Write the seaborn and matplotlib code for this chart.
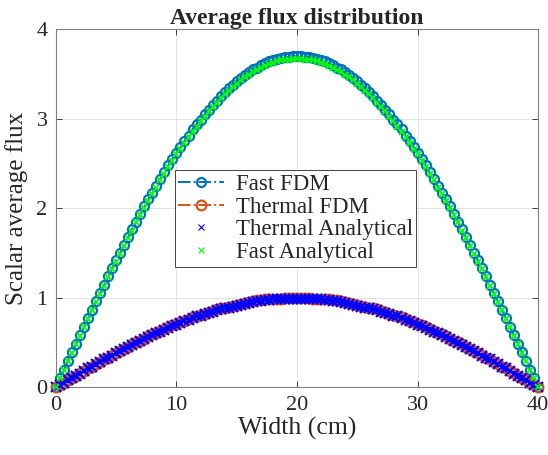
import numpy as np
import pandas as pd
import seaborn as sns
import matplotlib.pyplot as plt

# ---- data (121 points, 1/3 cm apart, 0..40 cm) ----
width_cm = np.linspace(0, 40, 121)

fast_fdm = [
    0.00, 0.10, 0.19, 0.29, 0.39, 0.48, 0.58, 0.67, 0.77, 0.86,
    0.96, 1.05, 1.14, 1.24, 1.33, 1.42, 1.50, 1.59, 1.68, 1.77,
    1.85, 1.93, 2.02, 2.10, 2.17, 2.25, 2.33, 2.40, 2.48, 2.55,
    2.62, 2.68, 2.75, 2.81, 2.88, 2.94, 2.99, 3.05, 3.10, 3.15,
    3.20, 3.25, 3.30, 3.34, 3.38, 3.42, 3.45, 3.49, 3.52, 3.55,
    3.57, 3.60, 3.62, 3.64, 3.65, 3.67, 3.68, 3.69, 3.69, 3.70,
    3.70,
    3.70, 3.69, 3.69, 3.68, 3.67, 3.65, 3.64, 3.62, 3.60, 3.57,
    3.55, 3.52, 3.49, 3.45, 3.42, 3.38, 3.34, 3.30, 3.25, 3.20,
    3.15, 3.10, 3.05, 2.99, 2.94, 2.88, 2.81, 2.75, 2.68, 2.62,
    2.55, 2.48, 2.40, 2.33, 2.25, 2.17, 2.10, 2.02, 1.93, 1.85,
    1.77, 1.68, 1.59, 1.50, 1.42, 1.33, 1.24, 1.14, 1.05, 0.96,
    0.86, 0.77, 0.67, 0.58, 0.48, 0.39, 0.29, 0.19, 0.10, 0.00,
]

thermal_fdm = [
    0.00, 0.03, 0.05, 0.08, 0.10, 0.13, 0.16, 0.18, 0.21, 0.23,
    0.26, 0.28, 0.31, 0.33, 0.36, 0.38, 0.41, 0.43, 0.45, 0.48,
    0.50, 0.52, 0.54, 0.57, 0.59, 0.61, 0.63, 0.65, 0.67, 0.69,
    0.71, 0.73, 0.74, 0.76, 0.78, 0.79, 0.81, 0.82, 0.84, 0.85,
    0.87, 0.88, 0.89, 0.90, 0.91, 0.92, 0.93, 0.94, 0.95, 0.96,
    0.97, 0.97, 0.98, 0.98, 0.99, 0.99, 0.99, 1.00, 1.00, 1.00,
    1.00,
    1.00, 1.00, 1.00, 0.99, 0.99, 0.99, 0.98, 0.98, 0.97, 0.97,
    0.96, 0.95, 0.94, 0.93, 0.92, 0.91, 0.90, 0.89, 0.88, 0.87,
    0.85, 0.84, 0.82, 0.81, 0.79, 0.78, 0.76, 0.74, 0.73, 0.71,
    0.69, 0.67, 0.65, 0.63, 0.61, 0.59, 0.57, 0.54, 0.52, 0.50,
    0.48, 0.45, 0.43, 0.41, 0.38, 0.36, 0.33, 0.31, 0.28, 0.26,
    0.23, 0.21, 0.18, 0.16, 0.13, 0.10, 0.08, 0.05, 0.03, 0.00,
]

thermal_analytical = [
    0.00, 0.03, 0.05, 0.08, 0.10, 0.13, 0.15, 0.18, 0.21, 0.23,
    0.26, 0.28, 0.31, 0.33, 0.35, 0.38, 0.40, 0.43, 0.45, 0.47,
    0.49, 0.52, 0.54, 0.56, 0.58, 0.60, 0.62, 0.64, 0.66, 0.68,
    0.70, 0.72, 0.74, 0.75, 0.77, 0.79, 0.80, 0.82, 0.83, 0.84,
    0.86, 0.87, 0.88, 0.89, 0.90, 0.91, 0.92, 0.93, 0.94, 0.95,
    0.96, 0.96, 0.97, 0.97, 0.98, 0.98, 0.98, 0.99, 0.99, 0.99,
    0.99,
    0.99, 0.99, 0.99, 0.98, 0.98, 0.98, 0.97, 0.97, 0.96, 0.96,
    0.95, 0.94, 0.93, 0.92, 0.91, 0.90, 0.89, 0.88, 0.87, 0.86,
    0.84, 0.83, 0.82, 0.80, 0.79, 0.77, 0.75, 0.74, 0.72, 0.70,
    0.68, 0.66, 0.64, 0.62, 0.60, 0.58, 0.56, 0.54, 0.52, 0.49,
    0.47, 0.45, 0.43, 0.40, 0.38, 0.35, 0.33, 0.31, 0.28, 0.26,
    0.23, 0.21, 0.18, 0.15, 0.13, 0.10, 0.08, 0.05, 0.03, 0.00,
]

fast_analytical = [
    0.00, 0.10, 0.19, 0.29, 0.38, 0.48, 0.57, 0.67, 0.76, 0.86,
    0.95, 1.04, 1.13, 1.23, 1.32, 1.40, 1.49, 1.58, 1.67, 1.75,
    1.84, 1.92, 2.00, 2.08, 2.16, 2.23, 2.31, 2.38, 2.46, 2.53,
    2.60, 2.66, 2.73, 2.79, 2.85, 2.91, 2.97, 3.02, 3.08, 3.13,
    3.18, 3.23, 3.27, 3.31, 3.35, 3.39, 3.43, 3.46, 3.49, 3.52,
    3.54, 3.57, 3.59, 3.61, 3.62, 3.64, 3.65, 3.66, 3.66, 3.67,
    3.67,
    3.67, 3.66, 3.66, 3.65, 3.64, 3.62, 3.61, 3.59, 3.57, 3.54,
    3.52, 3.49, 3.46, 3.43, 3.39, 3.35, 3.31, 3.27, 3.23, 3.18,
    3.13, 3.08, 3.02, 2.97, 2.91, 2.85, 2.79, 2.73, 2.66, 2.60,
    2.53, 2.46, 2.38, 2.31, 2.23, 2.16, 2.08, 2.00, 1.92, 1.84,
    1.75, 1.67, 1.58, 1.49, 1.40, 1.32, 1.23, 1.13, 1.04, 0.95,
    0.86, 0.76, 0.67, 0.57, 0.48, 0.38, 0.29, 0.19, 0.10, 0.00,
]

x_ticks = [0, 10, 20, 30, 40]
y_ticks = [0, 1, 2, 3, 4]

# ---- style ----
sns.set_theme(style="ticks")
plt.rcParams["font.family"] = ["Liberation Serif", "DejaVu Serif"]

fig = plt.figure(figsize=(5.48, 4.55), dpi=100)
ax = fig.add_axes([0.102, 0.149, 0.880, 0.787])

blue = "#0072BD"
orange = "#D95319"
pure_blue = "#0000FF"
pure_green = "#00FF00"

# seaborn puts a white edge on markers by default, so set edge colours here
sns.lineplot(x=width_cm, y=fast_fdm, ax=ax, color=blue, linestyle="-.",
             marker="o", markersize=6.5, markerfacecolor="none",
             markeredgecolor=blue, markeredgewidth=1.6, linewidth=1.4,
             label="Fast FDM", clip_on=False, zorder=3)
sns.lineplot(x=width_cm, y=thermal_fdm, ax=ax, color=orange, linestyle="-.",
             marker="o", markersize=7, markerfacecolor="none",
             markeredgecolor=orange, markeredgewidth=1.6, linewidth=1.4,
             label="Thermal FDM", clip_on=False, zorder=3)
sns.lineplot(x=width_cm, y=thermal_analytical, ax=ax, color=pure_blue,
             linestyle="", marker="x", markersize=6.5,
             markeredgecolor=pure_blue, markeredgewidth=1.5,
             label="Thermal Analytical", clip_on=False, zorder=4)
sns.lineplot(x=width_cm, y=fast_analytical, ax=ax, color=pure_green,
             linestyle="", marker="x", markersize=4.5,
             markeredgecolor=pure_green, markeredgewidth=1.3,
             label="Fast Analytical", clip_on=False, zorder=4)

ax.set_xlim(0, 40)
ax.set_ylim(0, 4)
ax.set_xticks(x_ticks)
ax.set_yticks(y_ticks)
ax.grid(True, color="#e3e3e3", linewidth=0.7)
ax.set_axisbelow(True)
ax.tick_params(direction="in", length=4, width=0.6, top=True, right=True,
               labelsize=16, colors="#262626", pad=6)
for sp in ax.spines.values():
    sp.set_color("#808080")
    sp.set_linewidth(0.8)

ax.set_xlabel("Width (cm)", fontsize=18.5, color="#262626", labelpad=2)
ax.set_ylabel("Scalar average flux", fontsize=18, color="#262626", labelpad=6)
ax.set_title("Average flux distribution", fontsize=17, fontweight="bold",
             pad=4)

leg = ax.legend(loc="upper left", bbox_to_anchor=(0.247, 0.606),
                borderaxespad=0, fontsize=16.5, frameon=True, fancybox=False,
                numpoints=1, handlelength=2.0, handletextpad=0.5,
                borderpad=0.15, labelspacing=0.08, framealpha=1)
leg.get_frame().set_edgecolor("#262626")
leg.get_frame().set_linewidth(0.6)
# the legend shows the analytical crosses small and thin
for h in leg.legend_handles[2:]:
    h.set_markersize(4)
    h.set_markeredgewidth(0.8)

fig.savefig("out.png", dpi=100)
